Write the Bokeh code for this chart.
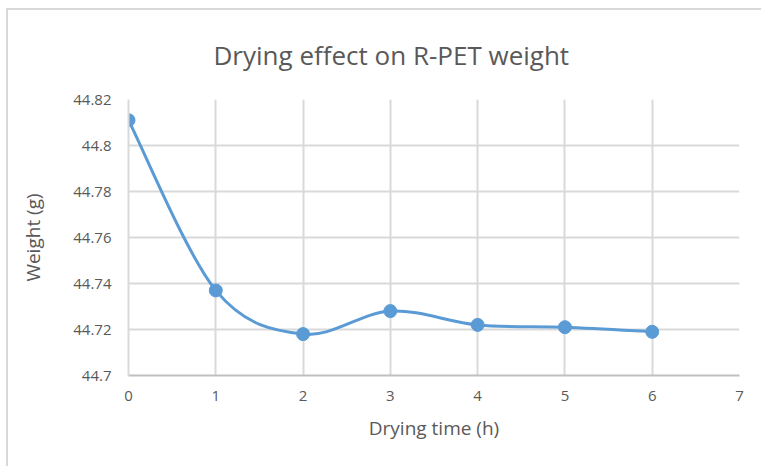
from bokeh.plotting import figure
from bokeh.models import FixedTicker
from bokeh.embed import file_html
from bokeh.resources import INLINE

# Drying time (h) and measured R-PET weight (g)
drying_time = [0, 1, 2, 3, 4, 5, 6]
weight = [44.811, 44.737, 44.718, 44.728, 44.722, 44.721, 44.719]

x_ticks = [0, 1, 2, 3, 4, 5, 6, 7]
y_ticks = [44.70, 44.72, 44.74, 44.76, 44.78, 44.80, 44.82]
y_tick_labels = ["44.7", "44.72", "44.74", "44.76", "44.78", "44.8", "44.82"]

BLUE = "#5b9bd5"
TEXT = "#595959"
GRID = "#d9d9d9"
FONT = "Open Sans"

W, H = 755, 458
p = figure(width=W, height=H, output_backend="svg", toolbar_location=None,
           x_range=(0, 7), y_range=(44.70, 44.82),
           min_border_left=120, min_border_right=24,
           min_border_top=89, min_border_bottom=93)

# chart area border, offset from the page corner
p.margin = (8, 0, 0, 6)
p.styles = {"border-left": "2px solid #d9d9d9", "border-top": "2px solid #d9d9d9"}

p.title.text = "Drying effect on R-PET weight"
p.title.align = "left"
p.title.offset = 85
p.title.vertical_align = "top"
p.title.standoff = 50
p.title.text_font = FONT
p.title.text_font_style = "normal"
p.title.text_font_size = "26px"
p.title.text_color = TEXT

p.outline_line_color = None
p.background_fill_color = "white"
p.border_fill_color = "white"

for ax in (p.xaxis[0], p.yaxis[0]):
    ax.major_tick_line_color = None
    ax.minor_tick_line_color = None
    ax.major_label_text_font = FONT
    ax.major_label_text_font_size = "15px"
    ax.major_label_text_color = TEXT
    ax.axis_label_text_font = FONT
    ax.axis_label_text_font_style = "normal"
    ax.axis_label_text_font_size = "19px"
    ax.axis_label_text_color = TEXT

p.xaxis.ticker = FixedTicker(ticks=x_ticks)
p.yaxis.ticker = FixedTicker(ticks=y_ticks)
p.yaxis.major_label_overrides = {t: l for t, l in zip(y_ticks, y_tick_labels)}
p.xaxis.axis_label = "Drying time (h)"
p.yaxis.axis_label = "Weight (g)"
p.xaxis.major_label_standoff = 9
p.yaxis.major_label_standoff = 11
p.xaxis.axis_label_standoff = 11
p.yaxis.axis_label_standoff = 24
p.xaxis.axis_line_color = "#bfbfbf"
p.xaxis.axis_line_width = 2
p.yaxis.axis_line_color = GRID
p.yaxis.axis_line_width = 2

p.xgrid.grid_line_color = GRID
p.ygrid.grid_line_color = GRID
p.xgrid.grid_line_width = 2
p.ygrid.grid_line_width = 2

# smoothed connecting line (cubic Bezier segments through the points)
n = len(drying_time)
x0, y0, x1, y1, cx0, cy0, cx1, cy1 = [], [], [], [], [], [], [], []
for i in range(n - 1):
    pa = max(i - 1, 0)
    pb = min(i + 2, n - 1)
    xa, ya = drying_time[i], weight[i]
    xb, yb = drying_time[i + 1], weight[i + 1]
    x0.append(xa); y0.append(ya); x1.append(xb); y1.append(yb)
    cx0.append(xa + (drying_time[i + 1] - drying_time[pa]) / 6)
    cy0.append(ya + (weight[i + 1] - weight[pa]) / 6)
    cx1.append(xb - (drying_time[pb] - drying_time[i]) / 6)
    cy1.append(yb - (weight[pb] - weight[i]) / 6)

p.bezier(x0=x0, y0=y0, x1=x1, y1=y1, cx0=cx0, cy0=cy0, cx1=cx1, cy1=cy1,
         line_color=BLUE, line_width=3)
p.scatter(drying_time, weight, size=13, fill_color=BLUE, line_color=BLUE)

open("out.html", "w").write(file_html(p, INLINE))
